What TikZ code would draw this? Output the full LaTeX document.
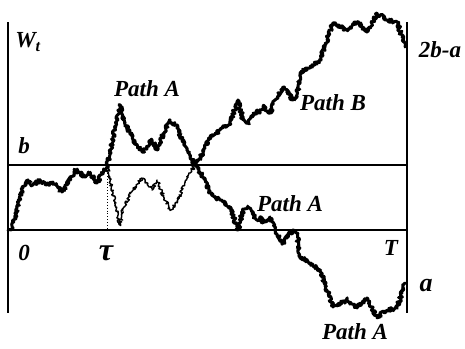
\documentclass[tikz,border=0pt]{standalone}
\usepackage{fontspec}
\setmainfont{Liberation Serif}
\usetikzlibrary{decorations.pathmorphing}
\tikzset{
  lbl/.style={font=\fontsize{23}{26}\selectfont\bfseries\itshape, inner sep=0pt},
  biglbl/.style={font=\fontsize{26}{28}\selectfont\bfseries\itshape, inner sep=0pt},
  taulbl/.style={font=\fontsize{32}{34}\selectfont\bfseries\itshape, inner sep=0pt},
  axis/.style={line width=1.8pt},
  level/.style={line width=1.6pt},
  brown/.style={line width=3pt, line join=round, line cap=round, decorate,
     decoration={random steps, segment length=1pt, amplitude=1.9pt}},
  brownthin/.style={line width=1.4pt, line join=round, line cap=round, decorate,
     decoration={random steps, segment length=1pt, amplitude=1.7pt}},
  mirror/.style={cm={1,0,0,-1,(0,-330pt)}}
}
\def\listPre{12/229,15/217,20/197,25/183,28/180,33/185,40/180,47/185,53/182,62/192,67/185,75/170,80/173,85/177,90/173,97/183,102/173,107/166}
\def\listUp{113/137,120/105,123/120,133/140,142/152,147/147,152/140,157/150,162/137,170/120,177/127,182/140,190/157,196/166}
\def\listLow{203/177,210/193,220/200,230/207,238/230,243/210,248/207,257/220,260/217,263/223,270/217,275/230,283/243,293/230,297/233,300/257,310/263,320/270,327/290,333/307,347/300,357/308,367/298,377/317,387/310,397/308,402/293,405/283}
\begin{document}
\begin{tikzpicture}[x=1pt,y=-1pt]
\useasboundingbox (0,0) rectangle (465,348);
% axes and levels
\coordinate (LT) at (8,22);
\coordinate (LB) at (8,313);
\coordinate (RT) at (407,22);
\coordinate (RB) at (407,313);
\coordinate (bL) at (8,165);
\coordinate (bR) at (407,165);
\coordinate (zL) at (8,230);
\coordinate (zR) at (407,230);
\coordinate (tauTop) at (107,167);
\coordinate (tauBot) at (107,230);
\coordinate (start) at (8,230);
\coordinate (tau) at (107,166);
\coordinate (cross) at (196,166);
\draw[axis] (LT) -- (LB);
\draw[axis] (RT) -- (RB);
\draw[level] (bL) -- (bR);
\draw[level] (zL) -- (zR);
\draw[line width=0.9pt, dotted] (tauTop) -- (tauBot);
% common path
\pgfmathsetseed{11}
\draw[brown] (start) \foreach \x/\y in \listPre { -- (\x,\y) };
% path A upper
\pgfmathsetseed{23}
\draw[brown] (tau) \foreach \x/\y in \listUp { -- (\x,\y) };
% path A lower
\pgfmathsetseed{37}
\draw[brown] (cross) \foreach \x/\y in \listLow { -- (\x,\y) };
% mirrored
\begin{scope}[mirror]
\pgfmathsetseed{23}
\draw[brownthin] (107,166) \foreach \x/\y in \listUp { -- (\x,\y) };
\pgfmathsetseed{37}
\draw[brown] (196,166) \foreach \x/\y in \listLow { -- (\x,\y) };
\end{scope}
% labels
\node[lbl] (Wt) at (28,42) {W\textsubscript{t}};
\node[lbl] (pA1) at (147,89) {Path A};
\node[lbl] (lb) at (24,146) {b};
\node[lbl] (pB) at (333,103) {Path B};
\node[lbl] (l2ba) at (440,50) {2b-a};
\node[lbl] (pA2) at (290,204) {Path A};
\node[lbl] (l0) at (24,253) {0};
\node[taulbl] (ltau) at (106,253) {τ};
\node[lbl] (lT) at (391,248) {T};
\node[biglbl] (la) at (426,286) {a};
\node[lbl] (pA3) at (355,332) {Path A};
\end{tikzpicture}
\end{document}
